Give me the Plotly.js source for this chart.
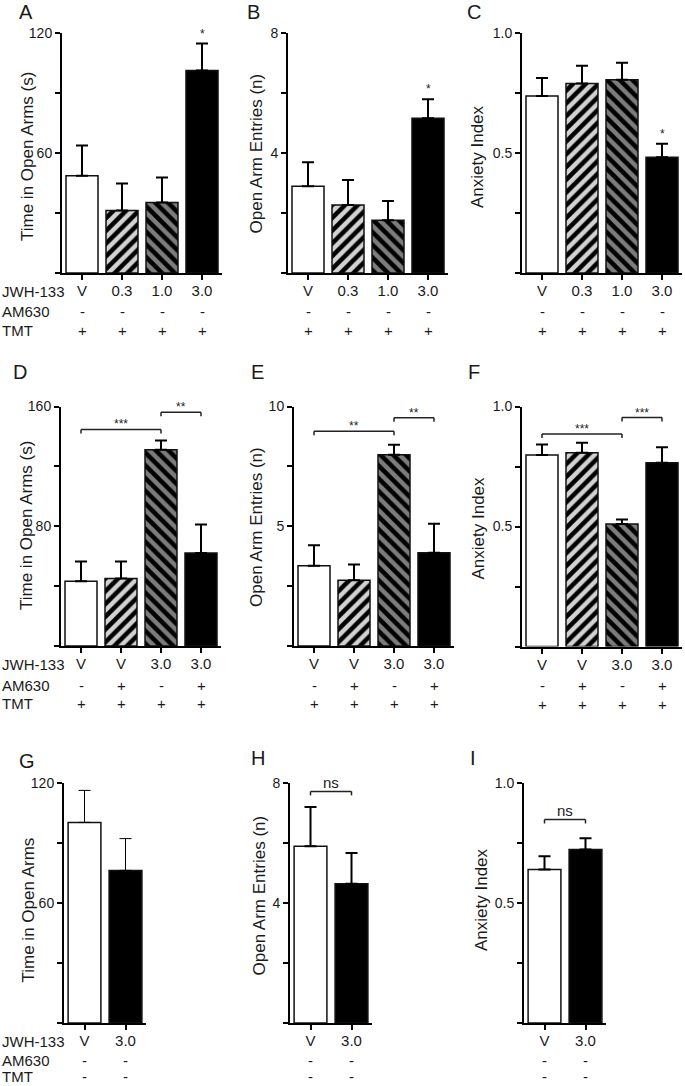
<!DOCTYPE html>
<html><head><meta charset="utf-8">
<script src="https://cdn.plot.ly/plotly-3.0.1.min.js"></script>
<style>html,body{margin:0;padding:0;background:#fff}</style>
</head><body><div id="chart" style="width:685px;height:1086px"></div>
<script>
// ---------- data ----------
const doseRow1 = ['V', '0.3', '1.0', '3.0'];
const am630Row1 = ['-', '-', '-', '-'];
const tmtRow1 = ['+', '+', '+', '+'];
const doseRow2 = ['V', 'V', '3.0', '3.0'];
const am630Row2 = ['-', '+', '-', '+'];
const tmtRow2 = ['+', '+', '+', '+'];
const doseRow3 = ['V', '3.0'];
const am630Row3 = ['-', '-'];
const tmtRow3 = ['-', '-'];

const timeA = [48.6, 31.2, 35.2, 101.2];
const timeA_sem = [15.1, 13.5, 12.5, 13.5];
const entriesB = [2.89, 2.27, 1.76, 5.16];
const entriesB_sem = [0.80, 0.83, 0.64, 0.63];
const anxietyC = [0.738, 0.790, 0.805, 0.482];
const anxietyC_sem = [0.075, 0.074, 0.071, 0.057];

const timeD = [43.3, 45.1, 131.1, 62.2];
const timeD_sem = [13.1, 11.3, 6.2, 18.9];
const entriesE = [3.35, 2.75, 7.99, 3.89];
const entriesE_sem = [0.86, 0.65, 0.41, 1.21];
const anxietyF = [0.798, 0.807, 0.510, 0.766];
const anxietyF_sem = [0.044, 0.042, 0.019, 0.064];

const timeG = [100.3, 76.3];
const timeG_sem = [16.0, 15.9];
const entriesH = [5.89, 4.64];
const entriesH_sem = [1.31, 1.03];
const anxietyI = [0.640, 0.723];
const anxietyI_sem = [0.055, 0.047];

const sigA = ['', '', '', '*'];
const sigB = ['', '', '', '*'];
const sigC = ['', '', '', '*'];
const bracketsD = [[0, 2, 144.7, '***'], [2, 3, 156.2, '**']];
const bracketsE = [[0, 2, 8.97, '**'], [2, 3, 9.53, '**']];
const bracketsF = [[0, 2, 0.885, '***'], [2, 3, 0.954, '***']];
const bracketsG = [[0, 1, 124.2, 'ns']];
const bracketsH = [[0, 1, 7.72, 'ns']];
const bracketsI = [[0, 1, 0.848, 'ns']];

// ---------- styles ----------
const W = 685, H = 1086;
const FONT = 'Liberation Sans, Arial, sans-serif';
const TXT = '#1a1a1a';
const fill4 = ['#ffffff', '#d2d2d2', '#7c7c7c', '#000000'];
const pat4 = ['', '/', '\\', ''];
const fill2 = ['#ffffff', '#000000'];
const pat2 = ['', ''];
const fx = p => p / W;
const fy = p => 1 - p / H;
const XF = 15, YF = 14, TF = 17;

const panels = [
  {letter:'A', lp:[26,12], title:'Time in Open Arms (s)', tp:[27,157], xd:[62,222], yd:[33,273], range:[0,120], tv:[0,30,60,90,120], tt:['','','60','','120'],
   y:timeA, e:timeA_sem, dose:doseRow1, am:am630Row1, tmt:tmtRow1, fill:fill4, pat:pat4, sig:sigA, br:[], rowLabels:true, eth:2},
  {letter:'B', lp:[253,12], title:'Open Arm Entries (n)', tp:[256.5,154], xd:[288,448], yd:[33,273], range:[0,8], tv:[0,2,4,6,8], tt:['','','4','','8'],
   y:entriesB, e:entriesB_sem, dose:doseRow1, am:am630Row1, tmt:tmtRow1, fill:fill4, pat:pat4, sig:sigB, br:[], eth:2},
  {letter:'C', lp:[474,12], title:'Anxiety Index', tp:[478,156], xd:[522,682], yd:[33,273], range:[0,1], tv:[0,0.25,0.5,0.75,1], tt:['','','0.5','','1.0'],
   y:anxietyC, e:anxietyC_sem, dose:doseRow1, am:am630Row1, tmt:tmtRow1, fill:fill4, pat:pat4, sig:sigC, br:[], eth:2},
  {letter:'D', lp:[20,372], title:'Time in Open Arms (s)', tp:[26,526], xd:[61,221], yd:[406.5,646], range:[0,160], tv:[0,40,80,120,160], tt:['','','80','','160'],
   y:timeD, e:timeD_sem, dose:doseRow2, am:am630Row2, tmt:tmtRow2, fill:fill4, pat:pat4, sig:null, br:bracketsD, rowLabels:true, eth:2},
  {letter:'E', lp:[257,372], title:'Open Arm Entries (n)', tp:[256,527], xd:[294,454], yd:[406.5,646], range:[0,10], tv:[0,2.5,5,7.5,10], tt:['','','5','','10'],
   y:entriesE, e:entriesE_sem, dose:doseRow2, am:am630Row2, tmt:tmtRow2, fill:fill4, pat:pat4, sig:null, br:bracketsE, eth:2},
  {letter:'F', lp:[474,372], title:'Anxiety Index', tp:[477.5,528], xd:[522,682], yd:[406.5,646.5], range:[0,1], tv:[0,0.25,0.5,0.75,1], tt:['','','0.5','','1.0'],
   y:anxietyF, e:anxietyF_sem, dose:doseRow2, am:am630Row2, tmt:tmtRow2, fill:fill4, pat:pat4, sig:null, br:bracketsF, eth:2},
  {letter:'G', lp:[27,761], title:'Time in Open Arms', tp:[27.5,910], xd:[64,146], yd:[783,1023], range:[0,120], tv:[0,30,60,90,120], tt:['','','60','','120'],
   y:timeG, e:timeG_sem, dose:doseRow3, am:am630Row3, tmt:tmtRow3, fill:fill2, pat:pat2, sig:null, br:bracketsG, rowLabels:true, eth:1, last:true},
  {letter:'H', lp:[257.5,758], title:'Open Arm Entries (n)', tp:[258.5,896], xd:[290,372], yd:[783,1023], range:[0,8], tv:[0,2,4,6,8], tt:['','','4','','8'],
   y:entriesH, e:entriesH_sem, dose:doseRow3, am:am630Row3, tmt:tmtRow3, fill:fill2, pat:pat2, sig:null, br:bracketsH, eth:2, last:true},
  {letter:'I', lp:[473,758], title:'Anxiety Index', tp:[481,900], xd:[524,606], yd:[783,1023], range:[0,1], tv:[0,0.25,0.5,0.75,1], tt:['','','0.5','','1.0'],
   y:anxietyI, e:anxietyI_sem, dose:doseRow3, am:am630Row3, tmt:tmtRow3, fill:fill2, pat:pat2, sig:null, br:bracketsI, eth:2, last:true}
];

const data = [];
const layout = {
  width: W, height: H, margin: {l:0, r:0, t:0, b:0},
  paper_bgcolor: '#ffffff', plot_bgcolor: 'rgba(0,0,0,0)',
  showlegend: false, barmode: 'overlay',
  font: {family: FONT, color: TXT},
  annotations: [], shapes: []
};

function rowText(xref, x, yPx, text, last, xanchor) {
  const a = {xref: xref, yref:'paper', x: x, text: text, showarrow:false, borderpad: 0,
    xanchor: xanchor || 'center', font:{size: XF, family: FONT, color: TXT}};
  if (last) { a.y = 0; a.yanchor = 'bottom'; }
  else { a.y = fy(yPx); a.yanchor = 'middle'; }
  return a;
}

panels.forEach((p, i) => {
  const k = i + 1;
  const xa = k === 1 ? 'x' : 'x' + k;
  const ya = k === 1 ? 'y' : 'y' + k;
  const xl = k === 1 ? 'xaxis' : 'xaxis' + k;
  const yl = k === 1 ? 'yaxis' : 'yaxis' + k;
  const idx = p.y.map((_, j) => j);
  // solid fills
  data.push({
    type: 'bar', x: idx, y: p.y, xaxis: xa, yaxis: ya, width: 0.8,
    marker: {color: p.fill, line: {width: 0}},
    hoverinfo: 'none'
  });
  // hatch stripes, outline and error bars on top
  const stripeCol = p.pat.map(s => s ? '#000000' : 'rgba(0,0,0,0)');
  data.push({
    type: 'bar', x: idx, y: p.y, xaxis: xa, yaxis: ya, width: 0.8,
    marker: {color: stripeCol, line: {color: '#111111', width: 1.5},
             pattern: {shape: p.pat, fillmode: 'replace', fgcolor: stripeCol, bgcolor: 'rgba(0,0,0,0)', size: 9, solidity: 0.5}},
    error_y: {type: 'data', symmetric: false, array: p.e, arrayminus: p.e.map(() => 0),
              color: '#000000', thickness: p.eth, width: 6},
    hoverinfo: 'none'
  });
  layout[xl] = {
    domain: [fx(p.xd[0]), fx(p.xd[1])], anchor: ya, range: [-0.5, p.y.length - 0.5],
    tickvals: idx, ticktext: p.dose, ticks: 'outside', ticklen: 5, tickwidth: 2, tickcolor: '#000',
    ticklabelstandoff: -2,
    showline: true, linecolor: '#000', linewidth: 2, showgrid: false, zeroline: false,
    tickfont: {size: XF, family: FONT, color: TXT}, fixedrange: true
  };
  layout[yl] = {
    domain: [fy(p.yd[1]), fy(p.yd[0])], anchor: xa, range: p.range,
    tickvals: p.tv, ticktext: p.tt, ticks: 'outside', ticklen: 5, tickwidth: 2, tickcolor: '#000',
    showline: true, linecolor: '#000', linewidth: 2, showgrid: false, zeroline: false,
    tickfont: {size: YF, family: FONT, color: TXT}, fixedrange: true
  };
  // panel letter
  layout.annotations.push({xref:'paper', yref:'paper', x: fx(p.lp[0]), y: fy(p.lp[1]), text: p.letter,
    showarrow:false, xanchor:'center', yanchor:'middle', font:{size:20, family:FONT, color:TXT}});
  // y title
  layout.annotations.push({xref:'paper', yref:'paper', x: fx(p.tp[0]), y: fy(p.tp[1]), text: p.title, textangle:-90,
    showarrow:false, xanchor:'center', yanchor:'middle', font:{size:TF, family:FONT, color:TXT}});
  // AM630 and TMT rows
  const base = p.yd[1];
  const amOff = p.last ? 37 : 39;
  idx.forEach(j => {
    layout.annotations.push(rowText(xa, j, base + amOff, p.am[j], false));
    layout.annotations.push(rowText(xa, j, base + 57.5, p.tmt[j], p.last));
  });
  if (p.rowLabels) {
    layout.annotations.push(rowText('paper', fx(0.5), base + 18.5, 'JWH-133', false, 'left'));
    layout.annotations.push(rowText('paper', fx(0.5), base + amOff, 'AM630', false, 'left'));
    layout.annotations.push(rowText('paper', fx(0.5), base + 57.5, 'TMT', p.last, 'left'));
  }
  // single significance stars
  if (p.sig) {
    p.sig.forEach((s, j) => {
      if (!s) return;
      layout.annotations.push({xref: xa, yref: ya, x: j, y: p.y[j] + p.e[j], text: s, showarrow:false,
        xanchor:'center', yanchor:'bottom', yshift: 1, font:{size:12, family:FONT, color:'#222'}});
    });
  }
  // brackets
  p.br.forEach(b => {
    const ln = {color:'#222', width:1.5};
    layout.shapes.push({type:'line', xref: xa, yref: ya, x0: b[0], x1: b[1], y0: b[2], y1: b[2], line: ln});
    layout.shapes.push({type:'line', xref: xa, yref: ya, x0: b[0], x1: b[0], ysizemode:'pixel', yanchor: b[2], y0: 0, y1: -4, line: ln});
    layout.shapes.push({type:'line', xref: xa, yref: ya, x0: b[1], x1: b[1], ysizemode:'pixel', yanchor: b[2], y0: 0, y1: -4, line: ln});
    const isNs = b[3] === 'ns';
    layout.annotations.push({xref: xa, yref: ya, x: (b[0] + b[1]) / 2, y: b[2], text: b[3], showarrow:false,
      xanchor:'center', yanchor:'bottom', yshift: isNs ? -2 : -4,
      font:{size: isNs ? 15 : 12, family:FONT, color: isNs ? TXT : '#222'}});
  });
});

Plotly.newPlot('chart', data, layout, {staticPlot: true, displayModeBar: false});
</script>
</body></html>
